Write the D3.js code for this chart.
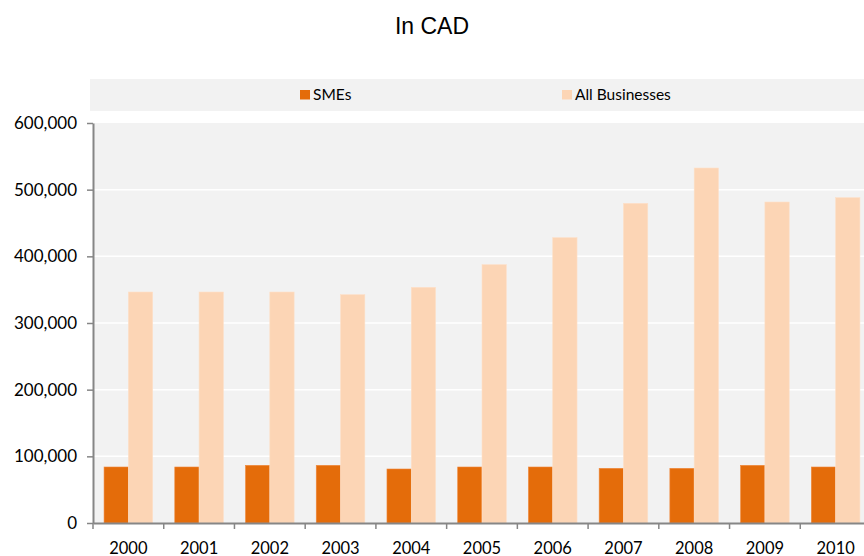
<!DOCTYPE html>
<html>
<head>
<meta charset="utf-8">
<script src="https://cdn.jsdelivr.net/npm/d3@7"></script>
<style>
  body { margin: 0; background: #fff; }
  svg { display: block; }
</style>
</head>
<body>
<div id="chart"></div>
<script>
// Chart data
const years = ["2000", "2001", "2002", "2003", "2004", "2005", "2006", "2007", "2008", "2009", "2010"];
const smes = [84000, 84000, 86500, 86500, 81000, 84000, 84000, 82000, 82000, 86500, 84000];
const allBusinesses = [346500, 346500, 346500, 342500, 353500, 387500, 428000, 479500, 532500, 481500, 488000];
const seriesNames = ["SMEs", "All Businesses"];
const seriesColors = ["#e46c0a", "#fcd5b5"];
const yTicks = [0, 100000, 200000, 300000, 400000, 500000, 600000];

const width = 864;
const height = 556;
const margin = { top: 123, right: -7, bottom: 33, left: 93 };
const font = "Lato, 'Open Sans', sans-serif";

const svg = d3.select("#chart")
  .append("svg")
  .attr("width", width)
  .attr("height", height);

// Title
svg.append("text")
  .attr("x", 432)
  .attr("y", 34)
  .attr("text-anchor", "middle")
  .style("font-family", "'Liberation Sans', Arial, sans-serif")
  .style("font-size", "23px")
  .text("In CAD");

// Legend box
const legend = svg.append("g");
legend.append("rect")
  .attr("x", 90).attr("y", 79)
  .attr("width", width - 90).attr("height", 32)
  .attr("fill", "#f2f2f2");
const legendX = [300, 562];
seriesNames.forEach((name, i) => {
  legend.append("rect")
    .attr("x", legendX[i]).attr("y", 90)
    .attr("width", 10).attr("height", 9.5)
    .attr("fill", seriesColors[i]);
  legend.append("text")
    .attr("x", legendX[i] + 13).attr("y", 99.5)
    .style("font-family", font)
    .style("font-size", "15.5px")
    .text(name);
});

// Scales
const x = d3.scaleBand()
  .domain(years)
  .range([margin.left, width - margin.right])
  .paddingInner(0)
  .paddingOuter(0);

const barW = 24.3;
const y = d3.scaleLinear()
  .domain([0, 600000])
  .range([height - margin.bottom, margin.top]);

// Plot background
svg.append("rect")
  .attr("x", margin.left)
  .attr("y", margin.top)
  .attr("width", width - margin.left)
  .attr("height", y(0) - margin.top)
  .attr("fill", "#f2f2f2");

// Gridlines
svg.append("g")
  .selectAll("line")
  .data(yTicks.filter(d => d > 0 && d < 600000))
  .join("line")
  .attr("x1", margin.left)
  .attr("x2", width)
  .attr("y1", d => y(d))
  .attr("y2", d => y(d))
  .attr("stroke", "#ffffff")
  .attr("stroke-width", 1.5);

// Bars
const groups = svg.append("g")
  .selectAll("g")
  .data(years)
  .join("g")
  .attr("transform", d => `translate(${x(d) + (x.bandwidth() - 2 * barW) / 2},0)`);

groups.append("rect")
  .attr("x", 0)
  .attr("y", (d, i) => y(smes[i]))
  .attr("width", barW)
  .attr("height", (d, i) => y(0) - y(smes[i]))
  .attr("fill", seriesColors[0])
  .attr("stroke", "#f0883a")
  .attr("stroke-width", 0.6);

groups.append("rect")
  .attr("x", barW)
  .attr("y", (d, i) => y(allBusinesses[i]))
  .attr("width", barW)
  .attr("height", (d, i) => y(0) - y(allBusinesses[i]))
  .attr("fill", seriesColors[1])
  .attr("stroke", "#fde0c8")
  .attr("stroke-width", 0.6);

// Y axis
const yAxis = svg.append("g")
  .attr("transform", `translate(${margin.left},0)`)
  .call(d3.axisLeft(y).tickValues(yTicks).tickSize(6).tickSizeOuter(0)
    .tickFormat(d3.format(",")));
yAxis.select(".domain").attr("stroke", "#868686").attr("stroke-width", 2);
yAxis.selectAll(".tick line").attr("stroke", "#868686").attr("stroke-width", 1.5);
yAxis.selectAll(".tick text")
  .attr("x", -16)
  .attr("fill", "#000")
  .style("font-family", font)
  .style("font-size", "17px");

// X axis
const xAxis = svg.append("g")
  .attr("transform", `translate(0,${y(0)})`)
  .call(d3.axisBottom(x).tickSize(0).tickSizeOuter(0));
xAxis.select(".domain").attr("stroke", "#868686").attr("stroke-width", 2);
xAxis.selectAll(".tick text")
  .attr("dy", 0)
  .attr("y", 31)
  .attr("fill", "#000")
  .style("font-family", font)
  .style("font-size", "16.5px");

// Category separator ticks
xAxis.append("g")
  .selectAll("line")
  .data(years)
  .join("line")
  .attr("x1", d => x(d))
  .attr("x2", d => x(d))
  .attr("y1", 0)
  .attr("y2", 6)
  .attr("stroke", "#868686")
  .attr("stroke-width", 1.5);
</script>
</body>
</html>
